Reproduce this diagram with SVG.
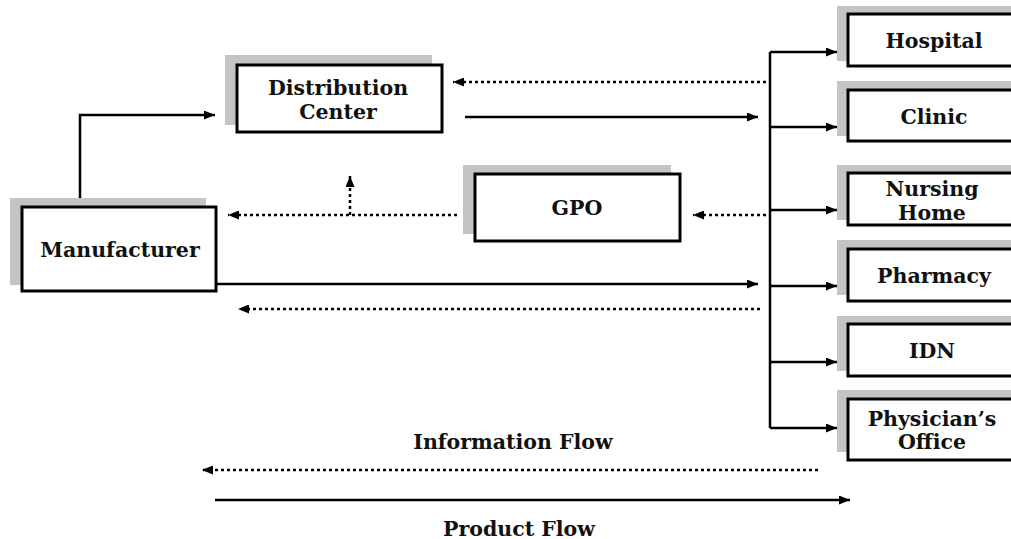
<svg xmlns="http://www.w3.org/2000/svg" width="1011" height="539" viewBox="0 0 1011 539">
<style>
.sh{fill:#c4c4c4}
.bx{fill:#fff;stroke:#000;stroke-width:3}
.t{font-family:"DejaVu Serif","Liberation Serif",serif;font-weight:bold;font-size:20.5px;fill:#111;text-anchor:middle}
.s{fill:none;stroke:#000;stroke-width:2.5}
.d{fill:none;stroke:#000;stroke-width:2.5;stroke-dasharray:3 3}
</style>
<defs>
<marker id="a" viewBox="0 0 11 9" refX="11" refY="4.5" markerWidth="11" markerHeight="9" markerUnits="userSpaceOnUse" orient="auto">
<path d="M0 0 L11 4.5 L0 9 Z" fill="#000"/>
</marker>
</defs>
<rect width="1011" height="539" fill="#fff"/>
<g id="connectors">
<path class="s" d="M80 207 V115 H215" marker-end="url(#a)"/>
<path class="s" d="M465 117 H758" marker-end="url(#a)"/>
<path class="d" d="M766 82 H453" marker-end="url(#a)"/>
<path class="d" d="M766 215 H693" marker-end="url(#a)"/>
<path class="d" d="M457 215 H228" marker-end="url(#a)"/>
<path class="d" d="M350 215 V176" marker-end="url(#a)"/>
<path class="s" d="M216 284 H758" marker-end="url(#a)"/>
<path class="d" d="M760 309 H238" marker-end="url(#a)"/>
<path class="s" d="M770 52 V428"/>
<path class="s" d="M770 52 H837" marker-end="url(#a)"/>
<path class="s" d="M770 127 H837" marker-end="url(#a)"/>
<path class="s" d="M770 210 H837" marker-end="url(#a)"/>
<path class="s" d="M770 286 H837" marker-end="url(#a)"/>
<path class="s" d="M770 362 H837" marker-end="url(#a)"/>
<path class="s" d="M770 428 H837" marker-end="url(#a)"/>
<path class="d" d="M818 470 H202" marker-end="url(#a)"/>
<path class="s" d="M215 500 H850" marker-end="url(#a)"/>
</g>
<g id="dc">
<rect class="sh" x="225" y="55" width="207" height="70"/>
<rect class="bx" x="237" y="65" width="205" height="67"/>
<text class="t" x="338" y="95">Distribution</text>
<text class="t" x="338" y="119">Center</text>
</g>
<g id="manufacturer">
<rect class="sh" x="10" y="198" width="196" height="87"/>
<rect class="bx" x="22" y="207" width="194" height="84"/>
<text class="t" x="120" y="257">Manufacturer</text>
</g>
<g id="gpo">
<rect class="sh" x="463" y="165" width="208" height="69"/>
<rect class="bx" x="475" y="174" width="205" height="67"/>
<text class="t" x="577" y="215">GPO</text>
</g>
<g id="hospital">
<rect class="sh" x="837" y="6" width="180" height="55"/>
<rect class="bx" x="848" y="14" width="172" height="52"/>
<text class="t" x="934" y="48">Hospital</text>
</g>
<g id="clinic">
<rect class="sh" x="837" y="81" width="180" height="55"/>
<rect class="bx" x="848" y="90" width="172" height="51"/>
<text class="t" x="934" y="124">Clinic</text>
</g>
<g id="nursing">
<rect class="sh" x="837" y="165" width="180" height="55"/>
<rect class="bx" x="848" y="173" width="172" height="52"/>
<text class="t" x="932" y="196">Nursing</text>
<text class="t" x="932" y="220">Home</text>
</g>
<g id="pharmacy">
<rect class="sh" x="837" y="240" width="180" height="55"/>
<rect class="bx" x="848" y="249" width="172" height="52"/>
<text class="t" x="934" y="283">Pharmacy</text>
</g>
<g id="idn">
<rect class="sh" x="837" y="316" width="180" height="55"/>
<rect class="bx" x="848" y="324" width="172" height="52"/>
<text class="t" x="932" y="358">IDN</text>
</g>
<g id="physician">
<rect class="sh" x="837" y="390" width="180" height="62"/>
<rect class="bx" x="848" y="399" width="172" height="61"/>
<text class="t" x="932" y="426">Physician’s</text>
<text class="t" x="932" y="449">Office</text>
</g>
<g id="legend">
<text class="t" x="513" y="449">Information Flow</text>
<text class="t" x="519" y="536">Product Flow</text>
</g>
</svg>
